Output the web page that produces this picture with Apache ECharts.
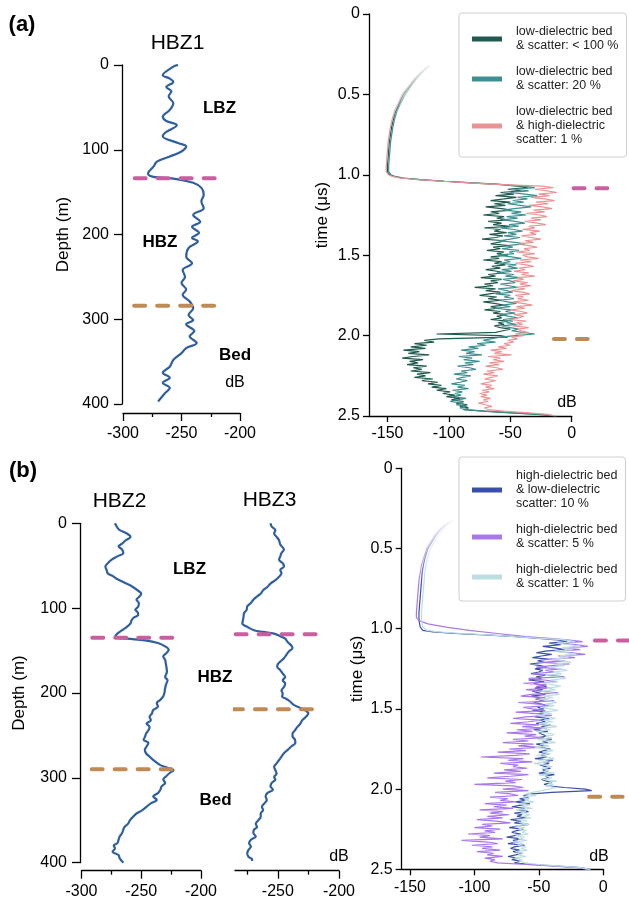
<!DOCTYPE html>
<html>
<head>
<meta charset="utf-8">
<script src="https://cdn.jsdelivr.net/npm/echarts@6/dist/echarts.min.js"></script>
<style>
  html, body { margin: 0; background: #fff; }
  #chart { width: 629px; height: 899px; }
</style>
</head>
<body>
<div id="chart"></div>
<script>
const FONT = "Liberation Sans, Arial, Helvetica, sans-serif";

// ---- depth profiles (depth in m, power in dB) ----
const hbz1Depth = [0, 2, 12, 16, 20, 26, 31, 37, 45, 53, 61, 66, 71, 79, 84, 92, 96, 102, 108, 114, 120, 128, 132, 134, 139, 145, 153, 161, 169, 177, 185, 191, 198, 204, 208, 216, 226, 234, 242, 250, 257, 265, 271, 279, 287, 295, 301, 306, 314, 320, 328, 334, 340, 348, 356, 363, 369, 375, 381, 387, 397];
const hbz1Db = [-253, -257, -266, -260, -257, -263, -258.6, -261, -257, -260, -266, -263, -254, -263, -266, -253, -246, -250, -260, -271, -274, -278.6, -274, -257, -240, -233, -231, -233, -231, -240, -234, -241, -235, -241, -236, -244, -246, -241, -249, -247, -250, -246, -249, -243, -240, -244, -240, -246, -239, -243, -237, -246, -250, -257, -260, -266, -260, -266, -260, -264, -270];

const hbz2Depth = [0, 5, 8, 12, 16, 20, 24, 27, 31, 35, 39, 43, 47, 51, 55, 59, 62, 65, 70, 75, 79, 83, 87, 90, 94, 98, 102, 105, 108, 111, 114, 118, 122, 126, 130, 134, 136, 138, 141, 145, 149, 153, 157, 161, 165, 169, 175, 181, 185, 189, 194, 199, 204, 208, 212, 216, 220, 224, 228, 232, 236, 240, 244, 248, 252, 255, 259, 263, 267, 271, 275, 280, 285, 288, 291, 294, 298, 302, 306, 310, 314, 318, 322, 326, 330, 334, 338, 342, 346, 350, 354, 358, 361, 365, 369, 373, 377, 380, 383, 387, 391, 395, 400];
const hbz2Db = [-272, -270, -268, -262, -259, -263, -266, -269, -266, -265, -270, -275, -278, -280, -279, -278, -274, -271, -264, -257, -253, -250, -252, -254, -252, -252.5, -255, -253, -252.5, -256, -258, -259, -262, -266, -270, -272, -262, -247, -236, -230, -227, -229, -231.6, -230, -229.5, -229, -228.5, -230, -228, -229, -230, -230.5, -231.6, -234, -237, -236, -240, -241, -243, -242, -245.5, -243, -244, -246, -247, -248, -244, -245.5, -247, -246, -243, -239, -234, -228, -223, -226, -229, -231.6, -230, -233, -234, -236, -240, -237, -242, -245.5, -249, -254, -257, -259.5, -261, -264, -265, -266, -268, -269, -270, -273, -272, -274, -269, -268, -265];

const hbz3Depth = [0, 4, 8, 12, 16, 20, 25, 31, 35, 39, 43, 47, 51, 55, 59, 63, 67, 71, 75, 79, 83, 86, 90, 94, 98, 102, 106, 110, 114, 118, 122, 126, 128, 130, 133, 136, 140, 144, 147, 151, 155, 159, 163, 166, 169, 173, 177, 181, 185, 189, 193, 197, 201, 204, 207, 210, 214, 218, 221, 224, 228, 232, 236, 240, 244, 248, 251, 255, 259, 263, 267, 271, 275, 279, 283, 287, 291, 295, 299, 302, 306, 310, 314, 318, 322, 326, 330, 334, 338, 342, 346, 350, 354, 358, 361, 365, 369, 373, 377, 381, 385, 389, 393, 396, 398];
const hbz3Db = [-256, -255, -252, -253, -251, -249, -248, -245, -247, -248, -249, -246, -245, -248, -247, -249, -252, -256, -258.6, -262, -264, -266.8, -270, -272, -275, -275.5, -277.6, -278, -278.5, -279, -275, -269.5, -262, -253, -248, -244, -242, -239, -238, -241, -243, -245, -248, -250, -250.5, -248, -246, -244, -246, -244, -245, -247, -246, -246.5, -243, -240, -237, -231, -227, -225, -227, -230, -231.6, -234, -236, -238, -238, -236, -235.7, -239, -242, -245, -247, -249, -251, -253, -252, -251, -253, -252, -255, -256, -254, -258.6, -260, -259, -261, -263, -262, -264, -264, -266, -268, -267, -269.5, -270, -268, -272, -273.5, -272, -274, -275, -274, -271, -271];

// boundary picks: [depth, dB start, dB end]
const hbz1Pink = [133.6, -290, -214.5];
const hbz1Brown = [284, -290.5, -216];
const hbz2Pink = [135, -291, -218];
const hbz2Brown = [290, -291.5, -218.5];
const hbz3Pink = [130.8, -284.5, -212.5];
const hbz3Brown = [219.2, -287.5, -215];

// ---- simulated traces (time in us, power in dB) ----
// smooth direct-wave part
const aSmoothT = [0.32, 0.36, 0.40, 0.45, 0.50, 0.55, 0.60, 0.65, 0.70, 0.75, 0.80, 0.85, 0.90, 0.95, 0.98, 1.00, 1.01, 1.02, 1.03, 1.04, 1.05, 1.06];
const lowScatter100Head = [-116, -122, -127, -132, -137, -140, -143, -145, -146.5, -147.5, -148.5, -149, -149.5, -150, -150, -148, -145, -138, -124, -104, -82, -60];
const lowScatter20Head = [-115, -121, -126, -131, -135.5, -139, -142, -144, -145.5, -146.5, -147.5, -148, -148.5, -149, -149, -147, -144, -137, -123, -103, -80, -58];
const lowHighScatter1Head = [-117, -123, -128, -133, -138, -141, -144, -146, -147.5, -148.5, -149.5, -150, -150.5, -151, -151, -149, -146, -140, -126, -106, -84, -62];

const bSmoothT = [0.30, 0.34, 0.38, 0.42, 0.46, 0.50, 0.55, 0.60, 0.65, 0.70, 0.75, 0.80, 0.85, 0.90, 0.95, 0.99, 1.01, 1.02, 1.03, 1.04, 1.05, 1.06];
const highLow10Head = [-112, -120, -126, -130, -133, -136, -138, -139.5, -140.5, -141, -141.5, -142, -142.5, -143, -143, -142, -140, -132, -115, -88, -68, -50];
const highLow1Head = [-110, -118, -124, -128, -131, -134, -136, -137.5, -138.5, -139, -139.5, -140, -140.5, -141, -141, -140, -137, -128, -110, -86, -68, -49];
const bSmoothTP = [0.30, 0.34, 0.38, 0.42, 0.46, 0.50, 0.55, 0.60, 0.65, 0.70, 0.75, 0.80, 0.85, 0.90, 0.93, 0.95, 0.97, 0.99, 1.01, 1.03, 1.05, 1.06];
const highHigh5Head = [-113, -121, -127, -131, -134, -137, -139, -141, -142, -143, -143.5, -144, -144.5, -145, -145, -143, -136, -122, -104, -82, -60, -42];

// scattered part, one value every 0.01 us from 1.07 to 2.50
const NOISE_T0 = 1.07, NOISE_DT = 0.01;
const lowScatter100 = [
  -44, -36, -52, -41, -58, -47, -62, -45, -55, -66,
  -50, -63, -54, -70, -57, -49, -66, -59, -72, -55,
  -61, -52, -68, -57, -64, -50, -71, -58, -63, -53,
  -67, -56, -62, -73, -54, -60, -66, -51, -64, -58,
  -69, -55, -61, -52, -66, -59, -72, -57, -63, -54,
  -65, -58, -70, -61, -55, -68, -62, -74, -57, -66,
  -60, -71, -64, -79, -62, -70, -58, -67, -75, -61,
  -68, -57, -72, -63, -55, -66, -60, -71, -58, -64,
  -53, -61, -57, -66, -52, -60, -55, -63, -58, -50,
  -56, -62, -110, -58, -52, -108, -120, -112, -128, -118,
  -131, -119, -137, -124, -133, -116, -129, -138, -121, -132,
  -125, -134, -118, -129, -122, -131, -115, -126, -119, -128,
  -113, -122, -109, -117, -106, -114, -102, -110, -99, -105,
  -95, -102, -91, -98, -88, -94, -85, -91, -84, -88,
  -72, -50, -28, -14];
const lowScatter20 = [
  -40, -30, -46, -35, -50, -38, -28, -44, -36, -48,
  -39, -52, -42, -33, -47, -55, -41, -49, -37, -53,
  -44, -56, -46, -38, -51, -43, -58, -47, -40, -52,
  -45, -55, -42, -50, -59, -46, -38, -53, -48, -57,
  -43, -51, -47, -60, -49, -41, -55, -50, -58, -45,
  -52, -44, -57, -49, -61, -47, -54, -42, -56, -50,
  -46, -58, -51, -44, -60, -53, -48, -62, -50, -55,
  -47, -59, -52, -45, -57, -50, -63, -49, -54, -46,
  -58, -51, -44, -56, -48, -53, -45, -57, -50, -43,
  -49, -40, -30, -46, -58, -66, -72, -62, -77, -70,
  -84, -76, -90, -79, -86, -73, -92, -81, -88, -75,
  -87, -80, -93, -83, -78, -90, -85, -96, -82, -89,
  -94, -85, -91, -98, -87, -93, -84, -97, -89, -95,
  -90, -97, -86, -93, -99, -88, -94, -85, -91, -87,
  -70, -46, -24, -13];
const lowHighScatter1 = [
  -24, -15, -30, -20, -12, -27, -18, -33, -22, -14,
  -29, -19, -35, -24, -16, -31, -22, -37, -26, -20,
  -33, -25, -38, -28, -21, -35, -30, -40, -26, -34,
  -29, -41, -33, -25, -38, -31, -44, -35, -28, -39,
  -34, -45, -30, -40, -36, -27, -42, -33, -46, -37,
  -31, -43, -38, -47, -35, -41, -30, -44, -39, -48,
  -36, -42, -33, -45, -38, -49, -40, -34, -46, -39,
  -44, -35, -48, -40, -32, -45, -38, -50, -41, -36,
  -47, -39, -43, -51, -37, -45, -40, -48, -35, -44,
  -41, -36, -46, -39, -49, -44, -52, -47, -55, -50,
  -60, -53, -66, -57, -63, -49, -68, -58, -64, -55,
  -67, -59, -70, -61, -56, -69, -63, -72, -60, -66,
  -71, -62, -68, -74, -65, -70, -63, -73, -67, -75,
  -69, -74, -66, -72, -68, -76, -70, -65, -71, -68,
  -55, -35, -20, -12];

const highLow10 = [
  -36, -28, -42, -33, -47, -38, -30, -45, -52, -40,
  -48, -55, -43, -51, -46, -57, -49, -44, -53, -47,
  -50, -56, -45, -52, -48, -58, -46, -54, -49, -44,
  -53, -47, -55, -50, -45, -56, -49, -52, -46, -54,
  -48, -43, -51, -46, -55, -44, -50, -47, -53, -42,
  -49, -45, -52, -41, -48, -46, -54, -43, -50, -47,
  -44, -51, -40, -47, -43, -52, -45, -49, -41, -46,
  -50, -42, -48, -44, -53, -39, -46, -42, -49, -45,
  -41, -47, -43, -50, -38, -45, -42, -48, -44, -40,
  -46, -43, -30, -14, -9, -40, -55, -62, -58, -65,
  -60, -68, -57, -64, -71, -61, -66, -58, -69, -63,
  -67, -60, -72, -64, -69, -58, -66, -73, -62, -68,
  -71, -64, -69, -75, -63, -70, -66, -74, -61, -69,
  -72, -65, -70, -63, -68, -74, -66, -71, -64, -69,
  -55, -35, -18, -10];
const highHigh5 = [
  -28, -16, -34, -20, -12, -30, -18, -38, -24, -14,
  -35, -22, -44, -30, -48, -26, -40, -52, -33, -45,
  -38, -55, -42, -30, -58, -46, -36, -62, -44, -52,
  -40, -60, -48, -35, -56, -64, -45, -53, -38, -66,
  -50, -42, -62, -55, -45, -68, -52, -40, -60, -70,
  -48, -58, -72, -50, -63, -44, -67, -55, -75, -52,
  -61, -46, -70, -58, -78, -54, -66, -49, -73, -60,
  -82, -57, -68, -95, -62, -74, -55, -80, -66, -70,
  -59, -77, -64, -85, -58, -72, -90, -63, -76, -68,
  -100, -70, -62, -78, -58, -84, -72, -66, -88, -74,
  -80, -68, -92, -75, -85, -70, -96, -78, -88, -73,
  -90, -78, -98, -83, -72, -94, -86, -100, -80, -92,
  -84, -105, -88, -96, -78, -110, -90, -82, -102, -86,
  -94, -80, -98, -85, -90, -78, -92, -84, -88, -82,
  -60, -38, -20, -12];
const highLow1 = [
  -30, -22, -36, -26, -18, -32, -24, -38, -28, -21,
  -34, -27, -40, -31, -25, -37, -30, -42, -33, -28,
  -39, -32, -45, -36, -29, -41, -35, -47, -38, -33,
  -44, -37, -48, -40, -34, -46, -39, -50, -42, -36,
  -45, -38, -49, -41, -35, -47, -40, -51, -43, -37,
  -46, -39, -50, -42, -36, -48, -41, -52, -44, -38,
  -45, -40, -51, -43, -37, -49, -42, -53, -44, -39,
  -47, -41, -52, -44, -38, -50, -43, -54, -45, -40,
  -48, -42, -46, -38, -50, -44, -40, -47, -36, -43,
  -39, -45, -37, -42, -48, -55, -60, -52, -63, -57,
  -61, -54, -66, -58, -63, -55, -68, -60, -64, -57,
  -62, -56, -67, -59, -65, -58, -69, -61, -66, -60,
  -63, -58, -68, -61, -66, -59, -70, -62, -67, -60,
  -64, -59, -68, -62, -66, -60, -69, -63, -65, -61,
  -50, -32, -18, -10];

// picks on the traces: [time, dB start, dB end]
const aPink = [1.084, 1.5, 29];
const aBrown = [2.021, -14.5, 13];
const bPink = [1.074, -6.5, 22];
const bBrown = [2.047, -11, 15];

const namesA = ["low-dielectric bed\n& scatter: < 100 %", "low-dielectric bed\n& scatter: 20 %", "low-dielectric bed\n& high-dielectric\nscatter: 1 %"];
const namesB = ["high-dielectric bed\n& low-dielectric\nscatter: 10 %", "high-dielectric bed\n& scatter: 5 %", "high-dielectric bed\n& scatter: 1 %"];
const colorsA = ["#1f5a4e", "#3e8f8f", "#e89494"];
const colorsB = ["#3a50a8", "#a878e8", "#bcdde2"];
const PINK = "#c95f9f", BROWN = "#c08a55", PROFILE = "#2f5f9f";

// ---- helpers ----
const noiseT = lowScatter100.map((_, i) => +(NOISE_T0 + i * NOISE_DT).toFixed(2));
const black = { color: "#000", width: 1.3 };

function rgba(hex, a) {
  const n = parseInt(hex.slice(1), 16);
  return `rgba(${n >> 16},${(n >> 8) & 255},${n & 255},${a})`;
}

function profile(depth, db, xi) {
  return {
    type: "line", xAxisIndex: xi, yAxisIndex: xi, symbol: "none", smooth: 0.35,
    data: db.map((v, i) => [v, depth[i]]),
    lineStyle: { color: PROFILE, width: 2.2 }, z: 3, silent: true
  };
}

function pick(p, color, xi) {
  return {
    type: "line", xAxisIndex: xi, yAxisIndex: xi, symbol: "none", clip: false,
    data: [[p[1], p[0]], [p[2], p[0]]],
    lineStyle: { color: color, width: 4, type: [11, 12], cap: "round" }, z: 5, silent: true
  };
}

function trace(name, headT, head, noise, color, grid, fadeTop, fadeBottom) {
  return {
    name: name, type: "line", xAxisIndex: grid, yAxisIndex: grid, symbol: "none",
    data: head.map((v, i) => [v, headT[i]]).concat(noise.map((v, i) => [v, noiseT[i]])),
    itemStyle: { color: color },
    lineStyle: {
      width: 1.2,
      color: {
        type: "linear", x: 0, y: fadeTop, x2: 0, y2: fadeBottom, global: true,
        colorStops: [{ offset: 0, color: rgba(color, 0) }, { offset: 1, color: rgba(color, 1) }]
      }
    },
    z: 2, silent: true
  };
}

function depthY(grid, extra) {
  return Object.assign({
    gridIndex: grid, type: "value", inverse: true, min: 0, max: 400, interval: 100,
    axisLine: { show: true, onZero: false, lineStyle: black }, axisTick: { show: true, length: 8, lineStyle: black },
    axisLabel: { fontSize: 16, color: "#000", margin: 13, fontFamily: FONT },
    splitLine: { show: false },
    nameLocation: "middle", nameTextStyle: { fontSize: 17, color: "#000", fontFamily: FONT }
  }, extra);
}

function dbX(grid, extra) {
  return Object.assign({
    gridIndex: grid, type: "value", position: "bottom", min: -300, max: -200, interval: 50, offset: 9,
    axisLine: { show: true, onZero: false, lineStyle: black },
    axisTick: { show: true, length: 8, lineStyle: black },
    minorTick: { show: true, splitNumber: 2, length: 4, lineStyle: black },
    axisLabel: { fontSize: 16, color: "#000", margin: 13, fontFamily: FONT },
    splitLine: { show: false }, minorSplitLine: { show: false }
  }, extra);
}

function timeY(grid, extra) {
  return Object.assign({
    gridIndex: grid, type: "value", inverse: true, min: 0, max: 2.5, interval: 0.5,
    axisLine: { show: true, onZero: false, lineStyle: black }, axisTick: { show: true, length: 6, lineStyle: black },
    axisLabel: { fontSize: 16, color: "#000", margin: 9, fontFamily: FONT, formatter: v => (v === 0 ? "0" : v.toFixed(1)) },
    splitLine: { show: false },
    name: "time (μs)", nameLocation: "middle", nameTextStyle: { fontSize: 17, color: "#000", fontFamily: FONT }
  }, extra);
}

const traceTicks = [-150, -100, -50, 0];
function traceX(grid, min, max, shown) {
  return {
    gridIndex: grid, type: "value", position: "bottom", min: min, max: max, show: shown,
    axisLine: { show: true, onZero: false, lineStyle: black },
    axisTick: { show: true, length: 6, lineStyle: black, customValues: traceTicks },
    axisLabel: { fontSize: 16, color: "#000", margin: 10, fontFamily: FONT, customValues: traceTicks },
    splitLine: { show: false }
  };
}

function legendBox(top, names, colors) {
  return {
    orient: "vertical", left: 459, top: top, icon: "rect", itemWidth: 30, itemHeight: 5, itemGap: 12,
    padding: [12, 8, 10, 13], backgroundColor: "rgba(255,255,255,0.85)",
    borderColor: "#cfcfcf", borderWidth: 1, borderRadius: 3, selectedMode: false,
    textStyle: { fontSize: 12.5, lineHeight: 14, color: "#222", fontFamily: FONT, padding: [0, 0, 0, 9] },
    data: names.map((n, i) => ({ name: n, itemStyle: { color: colors[i] } }))
  };
}

function label(text, x, y, size, weight) {
  return {
    type: "text", x: x, y: y, z: 10, silent: true,
    style: { text: text, fontSize: size, fontWeight: weight || "normal", fontFamily: FONT, fill: "#000", align: "center", verticalAlign: "middle" }
  };
}

const option = {
  animation: false,
  backgroundColor: "#fff",
  textStyle: { fontFamily: FONT },
  grid: [
    { left: 123, top: 65, width: 117, height: 339, outerBoundsMode: "none" },
    { left: 369, top: 14, width: 202.7, height: 402, outerBoundsMode: "none" },
    { left: 81.5, top: 523.3, width: 119.5, height: 339.4, outerBoundsMode: "none" },
    { left: 235, top: 523.3, width: 104, height: 339.4, outerBoundsMode: "none" },
    { left: 401.7, top: 468.3, width: 201.6, height: 401, outerBoundsMode: "none" },
    // wider twins of the trace panels, so the picks can run past 0 dB
    { left: 369, top: 14, width: 260, height: 402, outerBoundsMode: "none" },
    { left: 401.7, top: 468.3, width: 227.3, height: 401, outerBoundsMode: "none" },
    // twin of the HBZ3 panel, carrying its minor ticks
    { left: 235, top: 523.3, width: 104, height: 339.4, outerBoundsMode: "none" }
  ],
  xAxis: [
    dbX(0),
    traceX(1, -165, 0, true),
    dbX(2, { offset: 8 }),
    dbX(3, {
      min: -285, offset: 8, minorTick: { show: false },
      axisTick: { show: true, length: 8, lineStyle: black, customValues: [-250, -200] },
      axisLabel: { fontSize: 16, color: "#000", margin: 13, fontFamily: FONT, customValues: [-250, -200] }
    }),
    traceX(4, -156.4, 0, true),
    traceX(5, -165, -165 + 260 * 165 / 202.7, false),
    traceX(6, -156.4, -156.4 + 227.3 * 156.4 / 201.6, false),
    dbX(7, {
      min: -285, offset: 8, minorTick: { show: false }, axisLine: { show: false, onZero: false },
      axisTick: { show: true, length: 4, lineStyle: black, customValues: [-275, -225] },
      axisLabel: { show: false }
    })
  ],
  yAxis: [
    depthY(0, { offset: 1, name: "Depth (m)", nameGap: 50 }),
    timeY(1, { nameGap: 38 }),
    depthY(2, { offset: 1.5, name: "Depth (m)", nameGap: 52 }),
    depthY(3, { show: false }),
    timeY(4, { nameGap: 36 }),
    timeY(5, { show: false }),
    timeY(6, { show: false }),
    depthY(7, { show: false })
  ],
  legend: [legendBox(13, namesA, colorsA), legendBox(457, namesB, colorsB)],
  series: [
    profile(hbz1Depth, hbz1Db, 0),
    profile(hbz2Depth, hbz2Db, 2),
    profile(hbz3Depth, hbz3Db, 3),
    pick(hbz1Pink, PINK, 0), pick(hbz1Brown, BROWN, 0),
    pick(hbz2Pink, PINK, 2), pick(hbz2Brown, BROWN, 2),
    pick(hbz3Pink, PINK, 3), pick(hbz3Brown, BROWN, 3),
    trace(namesA[0], aSmoothT, lowScatter100Head, lowScatter100, colorsA[0], 1, 62, 125),
    trace(namesA[1], aSmoothT, lowScatter20Head, lowScatter20, colorsA[1], 1, 62, 125),
    trace(namesA[2], aSmoothT, lowHighScatter1Head, lowHighScatter1, colorsA[2], 1, 62, 125),
    trace(namesB[0], bSmoothT, highLow10Head, highLow10, colorsB[0], 4, 518, 585),
    trace(namesB[1], bSmoothTP, highHigh5Head, highHigh5, colorsB[1], 4, 518, 585),
    trace(namesB[2], bSmoothT, highLow1Head, highLow1, colorsB[2], 4, 518, 585),
    pick(aPink, PINK, 5), pick(aBrown, BROWN, 5),
    pick(bPink, PINK, 6), pick(bBrown, BROWN, 6)
  ],
  graphic: [
    label("(a)", 22, 25, 22, "bold"),
    label("(b)", 23, 471, 22, "bold"),
    label("HBZ1", 177.5, 43, 21),
    label("HBZ2", 119.5, 501, 21),
    label("HBZ3", 269.5, 500, 21),
    label("LBZ", 219.5, 108, 17, "bold"),
    label("HBZ", 160, 242, 17, "bold"),
    label("Bed", 235, 355, 17, "bold"),
    label("LBZ", 189.5, 569, 17, "bold"),
    label("HBZ", 215, 677, 17, "bold"),
    label("Bed", 215.5, 800, 17, "bold"),
    label("dB", 235, 383, 16),
    label("dB", 567, 403, 16),
    label("dB", 339, 857, 16),
    label("dB", 599, 857, 16)
  ]
};

const chart = echarts.init(document.getElementById("chart"), null, { renderer: "canvas" });
chart.setOption(option);
</script>
</body>
</html>
